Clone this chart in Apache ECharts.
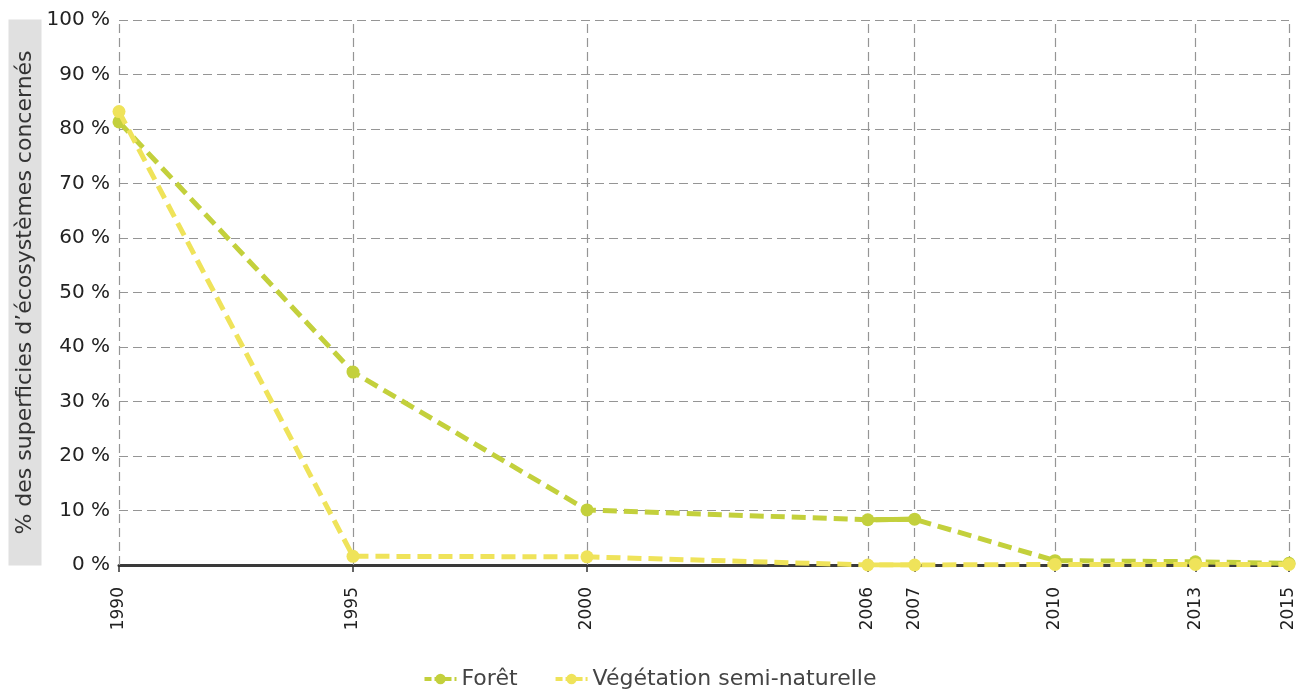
<!DOCTYPE html>
<html>
<head>
<meta charset="utf-8">
<script src="https://cdn.jsdelivr.net/npm/echarts@6/dist/echarts.min.js"></script>
<style>html,body{margin:0;padding:0;background:#fff}#c{width:1299px;height:690px}</style>
</head>
<body>
<div id="c"></div>
<script>
const years = [1990, 1995, 2000, 2006, 2007, 2010, 2013, 2015];
const yTicks = [0, 10, 20, 30, 40, 50, 60, 70, 80, 90, 100];
const foret = [81.3, 35.4, 10.1, 8.3, 8.4, 0.8, 0.6, 0.3];
const vegetation = [83.2, 1.6, 1.5, 0, 0, 0.1, 0.1, 0.1];
const seriesNames = ['Forêt', 'Végétation semi-naturelle'];
const yName = '% des superficies d\u2019écosystèmes concernés';
const solidFrom = 2006, solidTo = 2007;

const colors = ['#c3d03c', '#efe35a'];
const font = 'DejaVu Sans';

function pairs(vals) { return years.map((y, i) => [y, vals[i]]); }
function solidPart(vals) { return years.map((y, i) => [y, vals[i]]).filter(p => p[0] >= solidFrom && p[0] <= solidTo); }

const chart = echarts.init(document.getElementById('c'), null, {renderer: 'canvas'});
const dashedStyle = (c) => ({color: c, width: 5, type: [14, 7]});
const gridLine = {color: '#959595', width: 1.2, type: [9, 5]};
chart.setOption({
  animation: false,
  color: colors,
  grid: {left: 119, right: 10, top: 20, bottom: 125, containLabel: false, outerBoundsMode: 'none'},
  legend: {
    data: seriesNames,
    left: 'center', top: 663,
    itemWidth: 32, itemHeight: 13, itemGap: 36,
    lineStyle: {width: 4, type: [7, 3]},
    textStyle: {fontFamily: font, fontSize: 22, color: '#444'}
  },
  xAxis: {
    type: 'value', min: years[0], max: years[years.length - 1],
    axisLine: {show: true, onZero: false, lineStyle: {color: '#3a3a3a', width: 3}},
    axisTick: {show: true, customValues: years, length: 7, lineStyle: {color: '#333', width: 1.5}},
    axisLabel: {customValues: years, rotate: 90, margin: 22, fontFamily: font, fontSize: 17, color: '#222', formatter: v => String(v)},
    splitLine: {show: false}
  },
  yAxis: {
    type: 'value', min: 0, max: 100, interval: 10,
    name: yName, nameLocation: 'middle', nameRotate: 90, nameGap: 94, nameMoveOverlap: false,
    nameTextStyle: {fontFamily: font, fontSize: 22, color: '#333', backgroundColor: '#e0e0e0', lineHeight: 33, padding: [0, 31, 0, 31], align: 'center', verticalAlign: 'middle'},
    axisLine: {show: false},
    axisTick: {show: false},
    axisLabel: {margin: 9, fontFamily: font, fontSize: 20, color: '#222', formatter: v => v + ' %'},
    splitLine: {show: true, lineStyle: gridLine}
  },
  series: [
    {
      name: seriesNames[0], type: 'line', data: pairs(foret), z: 3,
      symbol: 'circle', symbolSize: 13, showAllSymbol: true,
      lineStyle: dashedStyle(colors[0]), itemStyle: {color: colors[0]},
      markLine: {
        silent: true, symbol: 'none', label: {show: false}, z: 1,
        lineStyle: gridLine,
        data: years.map(y => ({xAxis: y}))
      }
    },
    {
      name: seriesNames[1], type: 'line', data: pairs(vegetation), z: 4,
      symbol: 'circle', symbolSize: 13, showAllSymbol: true,
      lineStyle: dashedStyle(colors[1]), itemStyle: {color: colors[1]}
    },
    {
      name: seriesNames[0] + ' (continu)', type: 'line', data: solidPart(foret), z: 3,
      symbol: 'none', lineStyle: {color: colors[0], width: 5, type: 'solid'}, legendHoverLink: false
    },
    {
      name: seriesNames[1] + ' (continu)', type: 'line', data: solidPart(vegetation), z: 4,
      symbol: 'none', lineStyle: {color: colors[1], width: 5, type: 'solid'}, legendHoverLink: false
    }
  ]
});
</script>
</body>
</html>
